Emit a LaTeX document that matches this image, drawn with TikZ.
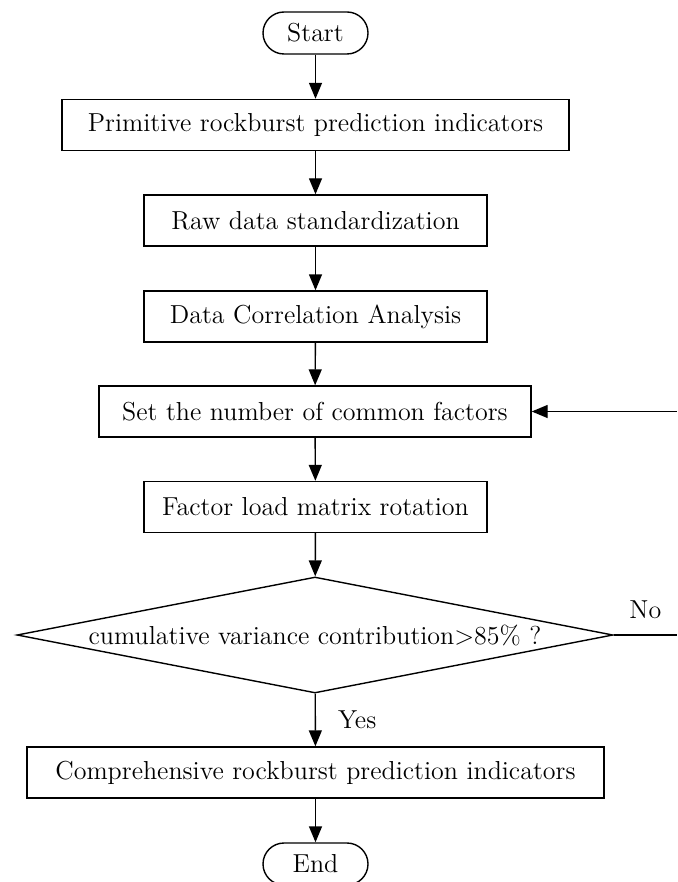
\documentclass[tikz,border=0pt]{standalone}
\usetikzlibrary{arrows.meta,shapes.geometric}
\begin{document}
\begin{tikzpicture}[x=0.5pt, y=-0.5pt,
    font=\fontsize{13}{15.5}\selectfont,
    line width=0.7pt,
    >={Triangle[length=8pt,width=6.5pt]},
    term/.style={draw, rounded corners=10.5pt, minimum width=52.5pt, minimum height=21pt, inner sep=0pt},
    proc/.style={draw, rectangle, minimum width=171.5pt, minimum height=25.5pt, inner sep=0pt},
    decide/.style={draw, diamond, aspect=5.2, minimum width=298pt, minimum height=58pt, inner sep=0pt}]
  \useasboundingbox (0,0) rectangle (677,882);
  % Nodes
  \node[term] at (315.5, 33) (start) {Start};
  \node[proc, minimum width=253.5pt] at (315.5, 125) (prim) {Primitive rockburst prediction indicators};
  \node[proc] at (315.5, 220.5) (raw) {Raw data standardization};
  \node[proc] at (315.5, 316.5) (corr) {Data Correlation Analysis};
  \node[proc, minimum width=216pt] at (315, 411.5) (setnum) {Set the number of common factors};
  \node[proc] at (315.5, 507) (rot) {Factor load matrix rotation};
  \node[decide] at (315, 635) (dec) {cumulative variance contribution>85\% ?};
  \node[proc, minimum width=288.5pt] at (315.5, 772.5) (comp) {Comprehensive rockburst prediction indicators};
  \node[term] at (315.5, 864) (end) {End};
  \coordinate (noend) at (677, 635);
  \coordinate (backin) at (677, 411.5);

  \draw[->] (start) edge (prim);
  \draw[->] (prim) edge (raw);
  \draw[->] (raw) edge (corr);
  \draw[->] (corr) edge (setnum);
  \draw[->] (setnum) edge (rot);
  \draw[->] (rot) edge (dec);
  \draw[->] (dec) edge node[right=11pt, inner sep=0pt] {Yes} (comp);
  \draw[->] (comp) edge (end);
  \draw (dec.east) -- node[above=8pt, inner sep=0pt] {No} (noend);
  \draw[->] (backin) -- (setnum.east);
\end{tikzpicture}
\end{document}
